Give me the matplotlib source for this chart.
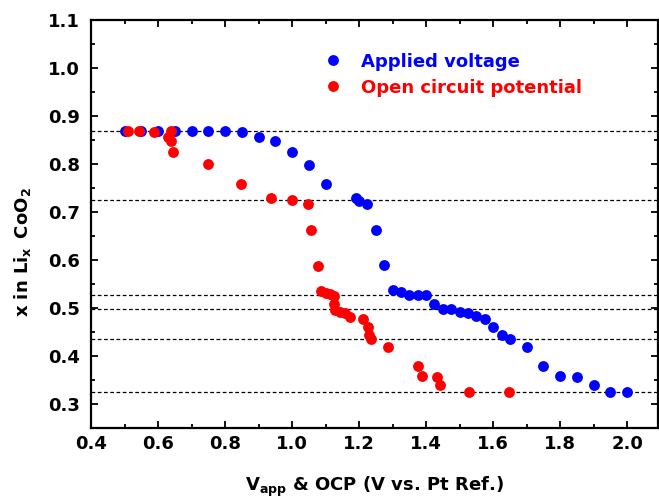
import matplotlib
matplotlib.use("Agg")
import matplotlib.pyplot as plt
from matplotlib.ticker import MultipleLocator, FormatStrFormatter

plt.rcParams['font.family'] = ['DejaVu Sans']
plt.rcParams['font.weight'] = 'bold'
plt.rcParams['mathtext.default'] = 'bf'

applied_x = [0.50, 0.55, 0.60, 0.65, 0.70, 0.75, 0.80, 0.85, 0.90, 0.95, 1.00, 1.05, 1.10,
             1.19, 1.20, 1.225, 1.25, 1.275, 1.30, 1.325, 1.35, 1.375, 1.40, 1.425, 1.45,
             1.475, 1.50, 1.525, 1.55, 1.575, 1.60, 1.625, 1.65, 1.70, 1.75, 1.80, 1.85,
             1.90, 1.95, 2.00]
applied_y = [0.869, 0.869, 0.869, 0.869, 0.869, 0.869, 0.869, 0.867, 0.856, 0.847, 0.824,
             0.798, 0.758, 0.730, 0.723, 0.717, 0.663, 0.589, 0.537, 0.533, 0.528, 0.527,
             0.527, 0.508, 0.497, 0.497, 0.492, 0.489, 0.483, 0.478, 0.461, 0.444, 0.435,
             0.419, 0.379, 0.358, 0.357, 0.340, 0.326, 0.325]

ocp_x = [0.51, 0.544, 0.588, 0.638, 0.631, 0.638, 0.646, 0.75, 0.847, 0.937, 0.999, 1.048,
         1.056, 1.078, 1.087, 1.101, 1.113, 1.125, 1.125, 1.128, 1.143, 1.158, 1.173, 1.213,
         1.228, 1.231, 1.235, 1.286, 1.377, 1.388, 1.432, 1.442, 1.527, 1.647]
ocp_y = [0.869, 0.869, 0.867, 0.869, 0.856, 0.847, 0.824, 0.799, 0.758, 0.729, 0.724, 0.717,
         0.663, 0.588, 0.536, 0.531, 0.529, 0.526, 0.508, 0.496, 0.492, 0.489, 0.482, 0.478,
         0.461, 0.444, 0.435, 0.418, 0.379, 0.358, 0.357, 0.340, 0.326, 0.326]

ref_levels = [0.869, 0.724, 0.528, 0.497, 0.435, 0.326]

fig = plt.figure(figsize=(6.59, 5.0), dpi=100)
ax = fig.add_axes([91/659, 72/500, (658-91)/659, (428-20)/500])

for lv in ref_levels:
    ax.axhline(lv, color='black', lw=0.9, ls=(0, (3, 2)), zorder=1)

ax.plot(applied_x, applied_y, 'o', color='#0000ff', ms=7.8, mec='none',
        label='Applied voltage', zorder=3)
ax.plot(ocp_x, ocp_y, 'o', color='#ff0000', ms=7.8, mec='none',
        label='Open circuit potential', zorder=4)

ax.set_xlim(0.4, 2.092)
ax.set_ylim(0.25, 1.1)
ax.xaxis.set_major_locator(MultipleLocator(0.2))
ax.xaxis.set_minor_locator(MultipleLocator(0.1))
ax.yaxis.set_major_locator(MultipleLocator(0.1))
ax.yaxis.set_minor_locator(MultipleLocator(0.05))
ax.xaxis.set_major_formatter(FormatStrFormatter('%.1f'))
ax.yaxis.set_major_formatter(FormatStrFormatter('%.1f'))
ax.tick_params(which='both', direction='in', top=True, right=True, width=1.3,
               labelsize=13)
ax.tick_params(which='major', length=5)
ax.tick_params(which='minor', length=3)
ax.tick_params(axis='x', which='major', pad=5)
ax.tick_params(axis='y', which='major', pad=8)
for sp in ax.spines.values():
    sp.set_linewidth(1.6)

ax.set_xlabel(r'V$_{\mathregular{app}}$ & OCP (V vs. Pt Ref.)', fontsize=13,
              fontweight='bold', labelpad=16)
ax.set_ylabel(r'x in Li$_{\mathregular{x}}\,$ CoO$_{\mathregular{2}}$', fontsize=13,
              fontweight='bold', labelpad=11)
ax.yaxis.label.set_y(0.43)

leg = ax.legend(loc='upper left', bbox_to_anchor=(310/659, 1 - 40/500),
                bbox_transform=fig.transFigure, frameon=False, fontsize=13,
                handletextpad=0.9, labelspacing=0.45, handlelength=1.2,
                labelcolor='linecolor', borderpad=0.2)
for t in leg.get_texts():
    t.set_fontweight('bold')

fig.savefig('out.png', dpi=100)
